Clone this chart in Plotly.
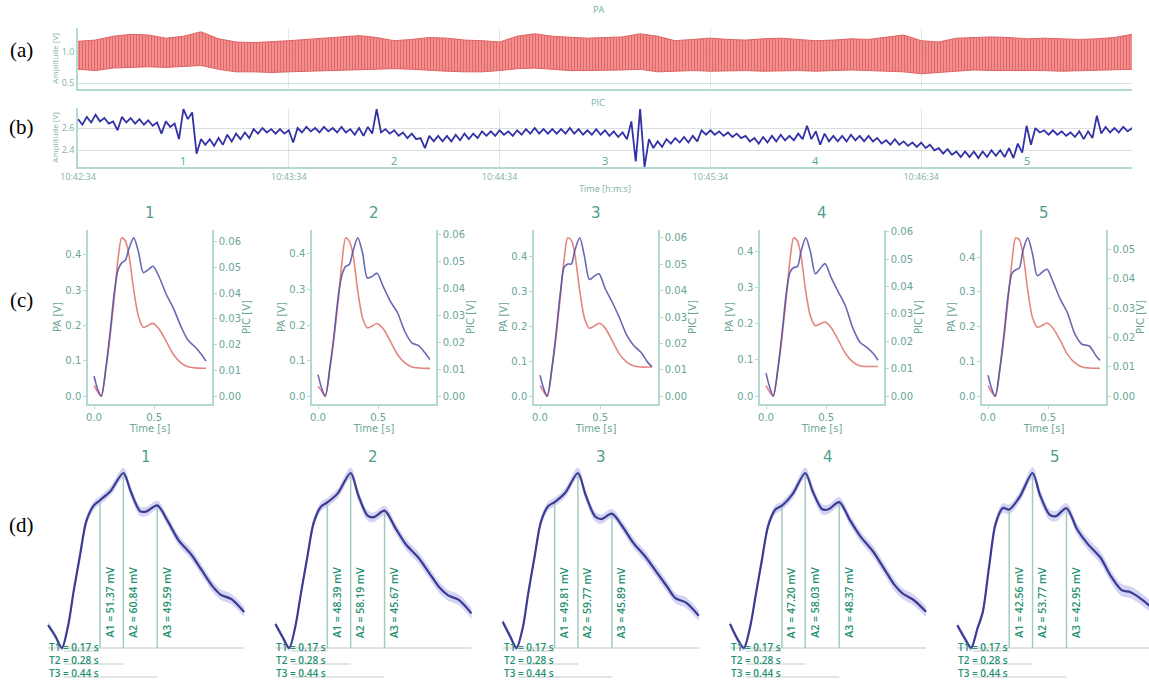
import plotly.graph_objects as go

W, H = 1149, 680

# ---------------- data ----------------
time_tick_s = [0, 60, 120, 180, 240, 300]
time_tick_text = ["10:42:34", "10:43:34", "10:44:34", "10:45:34", "10:46:34", "10:47:34"]
event_t = [30, 90, 150, 210, 270]
event_names = ["1", "2", "3", "4", "5"]

# (a) PA envelope, every 5 s from 10:42:34
pa_env_t = list(range(0, 301, 5))
pa_upper = [1.16, 1.18, 1.24, 1.27, 1.26, 1.21, 1.24, 1.31, 1.20, 1.15,
            1.14, 1.15, 1.17, 1.19, 1.21, 1.24, 1.25, 1.22, 1.17, 1.19,
            1.22, 1.21, 1.18, 1.17, 1.15, 1.24, 1.28, 1.24, 1.22, 1.21,
            1.22, 1.23, 1.28, 1.24, 1.17, 1.19, 1.21, 1.19, 1.18, 1.20,
            1.21, 1.19, 1.17, 1.18, 1.20, 1.19, 1.22, 1.26, 1.17, 1.15,
            1.21, 1.22, 1.23, 1.22, 1.20, 1.21, 1.20, 1.19, 1.20, 1.22,
            1.27]
pa_lower = [0.72, 0.70, 0.74, 0.75, 0.76, 0.75, 0.77, 0.78, 0.72, 0.68,
            0.68, 0.67, 0.68, 0.69, 0.70, 0.70, 0.71, 0.72, 0.73, 0.72,
            0.70, 0.69, 0.68, 0.68, 0.70, 0.73, 0.74, 0.72, 0.70, 0.70,
            0.70, 0.71, 0.72, 0.68, 0.69, 0.70, 0.69, 0.70, 0.70, 0.69,
            0.70, 0.70, 0.69, 0.70, 0.71, 0.70, 0.69, 0.68, 0.65, 0.67,
            0.70, 0.71, 0.70, 0.70, 0.71, 0.70, 0.69, 0.70, 0.71, 0.71,
            0.72]

# (b) PIC beat maxima / minima, every 2.5 s
pic_env_t = [i * 2.5 for i in range(121)]
pic_upper = [2.68, 2.70, 2.72, 2.69, 2.66, 2.70, 2.69, 2.68, 2.67, 2.65,
             2.66, 2.64, 2.77, 2.74, 2.50, 2.50, 2.51, 2.54, 2.55, 2.56,
             2.59, 2.60, 2.59, 2.59, 2.58, 2.60, 2.61, 2.60, 2.61, 2.60,
             2.61, 2.59, 2.60, 2.61, 2.77, 2.59, 2.58, 2.56, 2.55, 2.51,
             2.53, 2.53, 2.53, 2.54, 2.55, 2.55, 2.57, 2.57, 2.58, 2.57,
             2.58, 2.59, 2.60, 2.59, 2.59, 2.59, 2.60, 2.59, 2.58, 2.59,
             2.58, 2.57, 2.56, 2.66, 2.77, 2.50, 2.48, 2.50, 2.51, 2.52,
             2.53, 2.58, 2.58, 2.57, 2.56, 2.55, 2.53, 2.51, 2.52, 2.53,
             2.54, 2.53, 2.55, 2.62, 2.57, 2.55, 2.53, 2.53, 2.54, 2.53,
             2.53, 2.51, 2.49, 2.50, 2.48, 2.47, 2.47, 2.45, 2.42, 2.41,
             2.39, 2.39, 2.39, 2.39, 2.40, 2.40, 2.42, 2.46, 2.62, 2.60,
             2.58, 2.58, 2.57, 2.56, 2.57, 2.57, 2.71, 2.61, 2.60, 2.61,
             2.60]
pic_lower = [2.63, 2.65, 2.66, 2.64, 2.58, 2.65, 2.64, 2.63, 2.62, 2.55,
             2.61, 2.50, 2.68, 2.37, 2.45, 2.44, 2.45, 2.48, 2.50, 2.51,
             2.55, 2.56, 2.55, 2.55, 2.47, 2.56, 2.57, 2.56, 2.57, 2.56,
             2.56, 2.54, 2.53, 2.55, 2.56, 2.55, 2.53, 2.51, 2.50, 2.42,
             2.48, 2.48, 2.48, 2.49, 2.50, 2.51, 2.53, 2.53, 2.54, 2.53,
             2.54, 2.55, 2.55, 2.55, 2.55, 2.55, 2.55, 2.54, 2.54, 2.54,
             2.53, 2.52, 2.50, 2.30, 2.25, 2.42, 2.43, 2.46, 2.47, 2.47,
             2.48, 2.54, 2.54, 2.53, 2.52, 2.51, 2.48, 2.46, 2.47, 2.48,
             2.49, 2.49, 2.50, 2.50, 2.45, 2.48, 2.48, 2.48, 2.49, 2.48,
             2.48, 2.46, 2.45, 2.45, 2.44, 2.43, 2.42, 2.40, 2.37, 2.36,
             2.34, 2.34, 2.33, 2.34, 2.35, 2.34, 2.33, 2.38, 2.45, 2.56,
             2.54, 2.54, 2.53, 2.52, 2.50, 2.51, 2.55, 2.56, 2.56, 2.57,
             2.55]

# (c) mean pulses per event
c_t = [0.0, 0.03, 0.06, 0.1, 0.13, 0.17, 0.2, 0.23, 0.26, 0.29, 0.33, 0.37,
       0.41, 0.45, 0.49, 0.54, 0.6, 0.66, 0.72, 0.78, 0.84, 0.9, 0.93]
pa_c1 = [0.03, 0.012, 0.0, 0.08, 0.16, 0.285, 0.39, 0.448, 0.44, 0.40, 0.30, 0.225,
         0.195, 0.2, 0.206, 0.19, 0.155, 0.118, 0.095, 0.083, 0.08, 0.079, 0.079]
pa_c2 = [0.028, 0.014, 0.0, 0.08, 0.155, 0.277, 0.38, 0.445, 0.435, 0.40, 0.296, 0.22,
         0.192, 0.197, 0.204, 0.19, 0.155, 0.117, 0.094, 0.082, 0.079, 0.078, 0.078]
pa_c3 = [0.03, 0.013, 0.0, 0.08, 0.16, 0.29, 0.39, 0.452, 0.445, 0.405, 0.30, 0.222,
         0.194, 0.2, 0.208, 0.195, 0.158, 0.12, 0.097, 0.086, 0.083, 0.083, 0.083]
pa_c4 = [0.03, 0.012, 0.0, 0.078, 0.155, 0.28, 0.38, 0.438, 0.43, 0.39, 0.29, 0.22,
         0.195, 0.2, 0.205, 0.19, 0.155, 0.118, 0.095, 0.084, 0.082, 0.082, 0.082]
pa_c5 = [0.03, 0.012, 0.0, 0.08, 0.16, 0.29, 0.39, 0.455, 0.45, 0.41, 0.305, 0.225,
         0.198, 0.203, 0.21, 0.195, 0.16, 0.12, 0.096, 0.084, 0.081, 0.08, 0.08]
pic_c1 = [0.0078, 0.0027, 0.0, 0.0116, 0.0232, 0.0409, 0.0491, 0.0518, 0.0528, 0.0573, 0.0615, 0.0559,
          0.048, 0.0491, 0.0505, 0.0464, 0.0396, 0.0341, 0.0273, 0.0218, 0.0191, 0.0157, 0.0136]
pic_c2 = [0.0080, 0.0030, 0.0, 0.0112, 0.0216, 0.0377, 0.0452, 0.0482, 0.0489, 0.0538, 0.0588, 0.0532,
          0.0439, 0.0445, 0.0457, 0.0409, 0.0353, 0.0310, 0.0241, 0.0198, 0.0186, 0.0154, 0.0136]
pic_c3 = [0.0079, 0.0029, 0.0, 0.0112, 0.0224, 0.0396, 0.0488, 0.0501, 0.0501, 0.0554, 0.060, 0.0528,
          0.0442, 0.0455, 0.0464, 0.0409, 0.0356, 0.0297, 0.0231, 0.0191, 0.0165, 0.0125, 0.0112]
pic_c4 = [0.0084, 0.0033, 0.0, 0.0105, 0.0217, 0.0381, 0.0453, 0.047, 0.0473, 0.0526, 0.0578, 0.0526,
          0.0447, 0.0466, 0.0484, 0.0434, 0.0381, 0.0329, 0.025, 0.0197, 0.0177, 0.0151, 0.0131]
pic_c5 = [0.0071, 0.0026, 0.0, 0.010, 0.0201, 0.0355, 0.042, 0.0431, 0.0437, 0.0496, 0.054, 0.0485,
          0.0411, 0.0423, 0.0433, 0.039, 0.0331, 0.0284, 0.0213, 0.0177, 0.0171, 0.0136, 0.0122]
pa_c = [pa_c1, pa_c2, pa_c3, pa_c4, pa_c5]
pic_c = [pic_c1, pic_c2, pic_c3, pic_c4, pic_c5]

# (d) mean PIC pulse (mV) with band, and peak markers
d_t = [-0.075, -0.04, -0.01, 0.02, 0.045, 0.075, 0.105, 0.14, 0.17, 0.22, 0.28, 0.315,
       0.36, 0.39, 0.44, 0.49, 0.54, 0.6, 0.65, 0.7, 0.74, 0.79, 0.85]
d_1 = [8, 4, 0, 8, 19.5, 32, 44, 49.5, 51.37, 54.6, 60.84, 54.4,
       47.5, 47.5, 49.59, 44, 37.5, 32.5, 27, 21.5, 18.5, 17, 12.5]
d_2 = [8, 3.5, 0, 7.5, 18, 30, 41.5, 47, 48.39, 51.5, 58.19, 51,
       44, 43.5, 45.67, 40, 34.5, 30, 25, 20, 17.5, 16, 11.5]
d_3 = [9, 4, 0, 7, 18.5, 31, 43, 48.5, 49.81, 53, 59.77, 52.5,
       45, 44, 45.89, 41.5, 36, 31, 26, 21, 17, 15.5, 11]
d_4 = [8, 3, 0, 7, 17, 29, 40.5, 46, 47.20, 51, 58.03, 52,
       46, 46, 48.37, 42.5, 37, 32, 26.5, 21, 18, 16, 12]
d_5 = [7, 3, 0, 6, 11, 25, 38, 43, 42.56, 46.5, 53.77, 47,
       41, 40.5, 42.95, 36.5, 32, 27.8, 22, 17.8, 17.2, 15.2, 12]
d_curves = [d_1, d_2, d_3, d_4, d_5]
d_band = [1.0, 1.0, 1.0, 1.2, 1.5, 1.6, 1.6, 1.5, 1.5, 1.6, 1.8, 1.8,
          1.7, 1.6, 1.6, 1.7, 1.8, 1.9, 1.9, 1.9, 1.8, 1.8, 1.8]
d_T = [0.17, 0.28, 0.44]
d_A = [[51.37, 60.84, 49.59], [48.39, 58.19, 45.67], [49.81, 59.77, 45.89],
       [47.20, 58.03, 48.37], [42.56, 53.77, 42.95]]

# ---------------- styling ----------------
TEAL_TXT = "#4f9d8b"
GREEN_TXT = "#1f9072"
AXLINE = "#b2dad0"
BLUE = "#3232a6"


def px(x):
    return x / W


def py(y):
    return 1 - y / H


fig = go.Figure()
layout = dict(width=W, height=H, margin=dict(l=0, r=0, t=0, b=0, autoexpand=False),
              paper_bgcolor="white", plot_bgcolor="white", showlegend=False)

small = dict(family="Open Sans", size=9, color="#7fb2a6")

# ---- panel (a)
fig.add_trace(go.Scatter(x=pa_env_t, y=pa_lower, xaxis="x", yaxis="y", mode="lines",
                         line=dict(color="#df6462", width=1), hoverinfo="skip"))
fig.add_trace(go.Scatter(x=pa_env_t, y=pa_upper, xaxis="x", yaxis="y", mode="lines",
                         line=dict(color="#df6462", width=1), fill="tonexty",
                         fillpattern=dict(shape="|", size=3, solidity=0.4,
                                          fgcolor="#d23a3c", bgcolor="rgba(240,128,128,0.85)"),
                         hoverinfo="skip"))
layout["xaxis"] = dict(domain=[px(78), px(1132)], anchor="y", range=[0, 300],
                       tickvals=time_tick_s, showticklabels=False, ticks="",
                       showgrid=True, gridcolor="#dfe9e6", showline=True,
                       linecolor=AXLINE, linewidth=1.5, zeroline=False)
layout["yaxis"] = dict(domain=[py(89), py(28)], anchor="x", range=[0.41, 1.37],
                       tickvals=[0.5, 1.0], ticktext=["0.5", "1.0"], tickfont=small,
                       showgrid=True, gridcolor="#cfe6e0", showline=True,
                       linecolor=AXLINE, linewidth=1.5, zeroline=False,
                       title=dict(text="Amplitude [V]", font=dict(family="Open Sans", size=8, color="#7fb2a6"),
                                  standoff=2))

# ---- panel (b): beat-by-beat trace alternating between beat maxima and minima
pic_x, pic_y = [], []
for t, hi, lo in zip(pic_env_t, pic_upper, pic_lower):
    pic_x += [t, t + 1.25]
    pic_y += [hi, lo]
fig.add_trace(go.Scatter(x=pic_x, y=pic_y, xaxis="x2", yaxis="y2", mode="lines",
                         line=dict(color=BLUE, width=1.8), hoverinfo="skip"))
layout["xaxis2"] = dict(domain=[px(78), px(1132)], anchor="y2", range=[0, 300],
                        tickvals=time_tick_s, ticktext=time_tick_text, tickfont=small,
                        ticks="", showgrid=True, gridcolor="#dfe9e6", showline=True,
                        linecolor=AXLINE, linewidth=1.5, zeroline=False,
                        title=dict(text="Time [h:m:s]", font=small, standoff=4))
layout["yaxis2"] = dict(domain=[py(167), py(108)], anchor="x2", range=[2.25, 2.78],
                        tickvals=[2.4, 2.6], ticktext=["2.4", "2.6"], tickfont=small,
                        showgrid=True, gridcolor="#d9dede", showline=True,
                        linecolor=AXLINE, linewidth=1.5, zeroline=False,
                        title=dict(text="Amplitude [V]", font=dict(family="Open Sans", size=8, color="#7fb2a6"),
                                   standoff=2))

annotations = []
shapes = []


def label(x, y, text, font, xref="paper"):
    annotations.append(dict(x=x, y=y, xref=xref, yref="paper", text=text, showarrow=False,
                            xanchor="center", yanchor="middle", font=font))


label(px(598), py(10), "PA", dict(family="Open Sans", size=9, color="#6fb0a2"))
label(px(598), py(102), "PIC", dict(family="Open Sans", size=9, color="#6fb0a2"))
for et, en in zip(event_t, event_names):
    label(et, py(160), en, dict(family="Open Sans", size=11, color="#5aa896"), xref="x2")
for lbl, yy in zip(["(a)", "(b)", "(c)", "(d)"], [50, 127, 300, 525]):
    label(px(21), py(yy), lbl, dict(family="Liberation Serif", size=21, color="black"))

# ---- panel (c)
c_left = [88, 312, 534, 760, 982]
c_w = 124
tickf = dict(family="DejaVu Sans", size=10, color="#6aa597")
for k in range(5):
    xa, ya, yb = 3 + k, 3 + k, 8 + k
    fig.add_trace(go.Scatter(x=c_t, y=pa_c[k], xaxis=f"x{xa}", yaxis=f"y{ya}", mode="lines",
                             line=dict(color="#e07a70", width=1.6, shape="spline", smoothing=0.8),
                             opacity=0.9, hoverinfo="skip"))
    fig.add_trace(go.Scatter(x=c_t, y=pic_c[k], xaxis=f"x{xa}", yaxis=f"y{yb}", mode="lines",
                             line=dict(color="#4f4fa8", width=1.6, shape="spline", smoothing=0.8),
                             opacity=0.85, hoverinfo="skip"))
    pmax = max(pa_c[k])
    qmax = max(pic_c[k])
    layout[f"xaxis{xa}"] = dict(domain=[px(c_left[k]), px(c_left[k] + c_w)], anchor=f"y{ya}",
                                range=[-0.05, 0.98], tickvals=[0.0, 0.5], ticktext=["0.0", "0.5"],
                                tickfont=tickf, ticks="outside", ticklen=3, tickcolor=AXLINE,
                                showgrid=False, zeroline=False, showline=True, linecolor=AXLINE,
                                linewidth=1.5,
                                title=dict(text="Time [s]", font=tickf, standoff=0))
    layout[f"yaxis{ya}"] = dict(domain=[py(404), py(230)], anchor=f"x{xa}",
                                range=[-0.05 * pmax, 1.05 * pmax], dtick=0.1, tickformat=".1f",
                                tickfont=tickf, ticks="outside", ticklen=3, tickcolor=AXLINE,
                                showgrid=False, zeroline=False, showline=True, linecolor=AXLINE,
                                linewidth=1.5,
                                title=dict(text="PA [V]", font=tickf, standoff=2))
    layout[f"yaxis{yb}"] = dict(overlaying=f"y{ya}", anchor=f"x{xa}", side="right",
                                range=[-0.05 * qmax, 1.05 * qmax], dtick=0.01, tickformat=".2f",
                                tickfont=tickf, ticks="outside", ticklen=3, tickcolor=AXLINE,
                                showgrid=False, zeroline=False, showline=True, linecolor=AXLINE,
                                linewidth=1.5,
                                title=dict(text="PIC [V]", font=tickf, standoff=1))
    label(px(c_left[k] + c_w / 2), py(213), event_names[k],
          dict(family="DejaVu Sans", size=15, color=TEAL_TXT))

# ---- panel (d)
d_t0 = [64, 291.3, 518.6, 745.9, 973.2]
d_scale = 212.0
labf = dict(family="Open Sans", size=10.5, color=GREEN_TXT, weight=600)
tf = dict(family="Open Sans", size=10, color=GREEN_TXT, weight=600)
for k in range(5):
    xa, ya = 8 + k, 13 + k
    cur = d_curves[k]
    upper = [v + b for v, b in zip(cur, d_band)]
    lower = [v - b for v, b in zip(cur, d_band)]
    fig.add_trace(go.Scatter(x=d_t, y=lower, xaxis=f"x{xa}", yaxis=f"y{ya}", mode="lines",
                             line=dict(width=0, shape="spline"), hoverinfo="skip"))
    fig.add_trace(go.Scatter(x=d_t, y=upper, xaxis=f"x{xa}", yaxis=f"y{ya}", mode="lines",
                             line=dict(width=0, shape="spline"), fill="tonexty",
                             fillcolor="rgba(160,160,230,0.45)", hoverinfo="skip"))
    fig.add_trace(go.Scatter(x=[d_t[0], d_t[-1]], y=[0, 0], xaxis=f"x{xa}", yaxis=f"y{ya}",
                             mode="lines", line=dict(color="#c4c4c4", width=1), hoverinfo="skip"))
    for i in range(3):
        fig.add_trace(go.Scatter(x=[d_T[i], d_T[i]], y=[0, d_A[k][i]], xaxis=f"x{xa}", yaxis=f"y{ya}",
                                 mode="lines", line=dict(color="#a3cbc1", width=1.5), hoverinfo="skip"))
    fig.add_trace(go.Scatter(x=d_t, y=cur, xaxis=f"x{xa}", yaxis=f"y{ya}", mode="lines",
                             line=dict(color="#3b3b94", width=2.2, shape="spline", smoothing=0.8),
                             hoverinfo="skip"))
    x0 = d_t0[k] - 22
    x1 = min(d_t0[k] + 186, W)
    P = max(cur)
    layout[f"xaxis{xa}"] = dict(domain=[px(x0), px(x1)], anchor=f"y{ya}", visible=False,
                                range=[(x0 - d_t0[k]) / d_scale, (x1 - d_t0[k]) / d_scale])
    layout[f"yaxis{ya}"] = dict(domain=[py(655), py(458)], anchor=f"x{xa}", visible=False,
                                range=[-0.04 * P, 1.0857 * P])
    label(px((x0 + d_t0[k] + 186) / 2), py(457), event_names[k],
          dict(family="DejaVu Sans", size=15, color=TEAL_TXT))
    for i in range(3):
        annotations.append(dict(x=d_T[i], y=0, xref=f"x{xa}", yref=f"y{ya}",
                                text=f"A{i + 1} = {d_A[k][i]:.2f} mV", textangle=-90,
                                showarrow=False, xanchor="left", yanchor="bottom", xshift=0, yshift=8,
                                font=labf))
        yy = [651, 664, 677][i]
        shapes.append(dict(type="line", xref=f"x{xa}", yref="paper", x0=0, x1=d_T[i],
                           y0=py(yy), y1=py(yy), line=dict(color="#b3bcba", width=0.8)))
    t_text = "<br>".join(f"T{i + 1} = {d_T[i]:.2f} s" for i in range(3))
    annotations.append(dict(x=d_t[0], y=py(660), xref=f"x{xa}", yref="paper",
                            text=t_text, showarrow=False, align="left", borderpad=0,
                            xanchor="left", yanchor="middle", font=tf))

for key in list(layout.keys()):
    if key.startswith("xaxis") or key.startswith("yaxis"):
        layout[key]["automargin"] = False

layout["annotations"] = annotations
layout["shapes"] = shapes
fig.update_layout(**layout)
fig.write_html("out.html")
